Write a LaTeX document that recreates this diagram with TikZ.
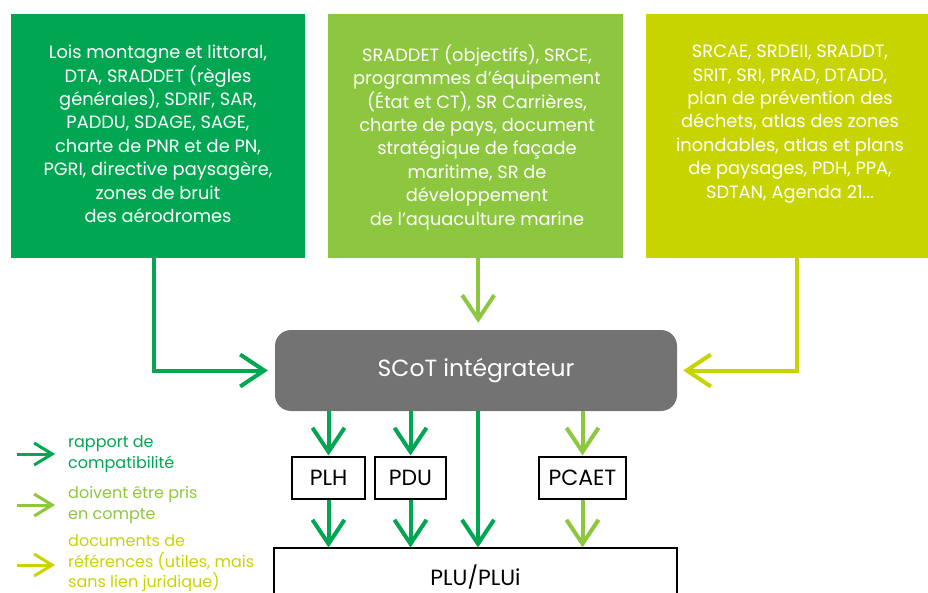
\documentclass[tikz,border=0pt]{standalone}
\usepackage{fontspec}
\setmainfont{Poppins}
\usetikzlibrary{arrows.meta}
\definecolor{cgreen}{RGB}{0,166,81}
\definecolor{lgreen}{RGB}{141,198,63}
\definecolor{ygreen}{RGB}{200,212,0}
\definecolor{scotgray}{RGB}{115,115,115}
\begin{document}
\begin{tikzpicture}[x=1pt,y=-1pt,
  srcbox/.style={inner sep=0pt, anchor=north west},
  boxtxt/.style={inner sep=0pt, anchor=north, align=center, text=white, font=\fontsize{17.8}{23.4}\selectfont},
  bigarrow/.style={line width=4pt, -{Straight Barb[length=24pt,width=32pt]}},
  legarrow/.style={line width=3pt, -{Straight Barb[length=18pt,width=22pt]}},
  legtxt/.style={inner sep=0pt, anchor=west, align=left, font=\fontsize{16}{21}\selectfont},
  docbox/.style={draw=black, line width=1.2pt, fill=white, inner sep=0pt, minimum height=42pt, font=\fontsize{22}{24}\selectfont}
]
\useasboundingbox (0,0) rectangle (928,593);
% source boxes
\node[srcbox, fill=cgreen, minimum width=294pt, minimum height=244pt] (b1) at (11,14) {};
\node[srcbox, fill=lgreen, minimum width=295pt, minimum height=244pt] (b2) at (328,14) {};
\node[srcbox, fill=ygreen, minimum width=282pt, minimum height=244pt] (b3) at (646,14) {};
\node[boxtxt] (t1) at (158,45) {Lois montagne et littoral,\\DTA, SRADDET (règles\\générales), SDRIF, SAR,\\PADDU, SDAGE, SAGE,\\charte de PNR et de PN,\\PGRI, directive paysagère,\\zones de bruit\\des aérodromes};
\node[boxtxt] (t2) at (477,44.5) {SRADDET (objectifs), SRCE,\\programmes d’équipement\\(État et CT), SR Carrières,\\charte de pays, document\\stratégique de façade\\maritime, SR de\\développement\\de l’aquaculture marine};
\node[boxtxt] (t3) at (790,45) {SRCAE, SRDEII, SRADDT,\\SRIT, SRI, PRAD, DTADD,\\plan de prévention des\\déchets, atlas des zones\\inondables, atlas et plans\\de paysages, PDH, PPA,\\SDTAN, Agenda 21...};
% SCoT
\node[fill=scotgray, rounded corners=16pt, minimum width=402pt, minimum height=81pt, inner sep=0pt, text=white, font=\fontsize{23.4}{26}\selectfont] (scot) at (476,370.5) {SCoT intégrateur};
% documents
\node[docbox, minimum width=73pt] (plh) at (328.5,478) {PLH};
\node[docbox, minimum width=71pt] (pdu) at (410.5,478) {PDU};
\node[docbox, minimum width=87pt] (pcaet) at (582.5,478) {PCAET};
\node[docbox, minimum width=403pt, minimum height=58pt] (plu) at (475.5,577) {PLU/PLUi};
% arrows into SCoT
\draw[bigarrow, cgreen, shorten >=7pt] ([xshift=-4pt]b1.south) -- ([xshift=-4pt]b1.south |- scot.west) -- (scot.west);
\draw[bigarrow, lgreen, shorten >=7pt] ([xshift=2.5pt]b2.south) -- ([xshift=2.5pt]b2.south |- scot.north);
\draw[bigarrow, ygreen, shorten >=6pt] ([xshift=10pt]b3.south) -- ([xshift=10pt]b3.south |- scot.east) -- (scot.east);
% arrows out of SCoT
\draw[bigarrow, cgreen, shorten >=1pt] (scot.south -| plh.north) -- (plh.north);
\draw[bigarrow, cgreen, shorten >=1pt] (scot.south -| pdu.north) -- (pdu.north);
\draw[bigarrow, lgreen, shorten >=1pt] (scot.south -| pcaet.north) -- (pcaet.north);
\draw[bigarrow, cgreen] ([xshift=2pt]scot.south) -- ([xshift=2pt]scot.south |- plu.north);
\draw[bigarrow, cgreen] (plh.south) -- (plh.south |- plu.north);
\draw[bigarrow, cgreen] (pdu.south) -- (pdu.south |- plu.north);
\draw[bigarrow, lgreen] (pcaet.south) -- (pcaet.south |- plu.north);
% legend
\coordinate (l1a) at (17,454); \coordinate (l1b) at (55,454);
\coordinate (l2a) at (17,505); \coordinate (l2b) at (55,505);
\coordinate (l3a) at (17,565); \coordinate (l3b) at (55,565);
\draw[legarrow, cgreen] (l1a) -- (l1b);
\draw[legarrow, lgreen] (l2a) -- (l2b);
\draw[legarrow, ygreen] (l3a) -- (l3b);
\node[legtxt, text=cgreen] (lt1) at (68,454) {rapport de\\compatibilité};
\node[legtxt, text=lgreen] (lt2) at (68,505) {doivent être pris\\en compte};
\node[legtxt, text=ygreen, font=\fontsize{16}{20.5}\selectfont] (lt3) at (68,563.5) {documents de\\références (utiles, mais\\sans lien juridique)};
\end{tikzpicture}
\end{document}
